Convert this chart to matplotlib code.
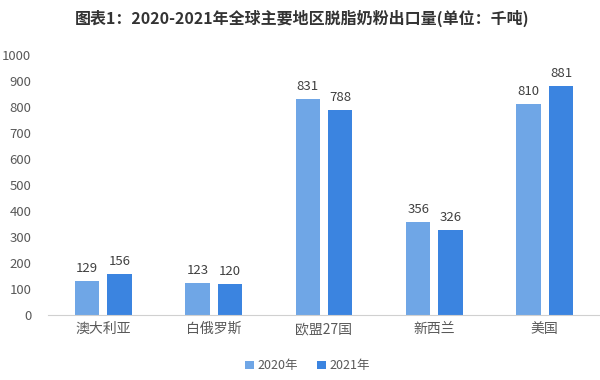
import numpy as np
import matplotlib.pyplot as plt

plt.rcParams['font.family'] = ['Noto Sans CJK SC', 'DejaVu Sans']

regions = ["澳大利亚", "白俄罗斯", "欧盟27国", "新西兰", "美国"]
exports_2020 = [129, 123, 831, 356, 810]
exports_2021 = [156, 120, 788, 326, 881]
yticks = list(range(0, 1001, 100))

c2020 = "#6fa6e6"
c2021 = "#3b84e0"
grey = "#595959"

fig = plt.figure(figsize=(6, 3.8), dpi=100)
ax = fig.add_axes([0.08, 0.171, 0.92, 0.684])

x = np.arange(len(regions))
w = 0.22
off = 0.147
b1 = ax.bar(x - off, exports_2020, width=w, color=c2020, label="2020年")
b2 = ax.bar(x + off, exports_2021, width=w, color=c2021, label="2021年")

for bars, vals in ((b1, exports_2020), (b2, exports_2021)):
    for rect, v in zip(bars, vals):
        ax.text(rect.get_x() + rect.get_width() / 2, v + 24, str(v),
                ha="center", va="bottom", fontsize=9.5, color="#404040")

ax.set_xlim(-0.5, len(regions) - 0.5)
ax.set_ylim(0, 1000)
ax.set_yticks(yticks)
ax.set_xticks(x)
ax.set_xticklabels(regions, fontsize=10, color=grey)
ax.tick_params(axis="y", labelsize=9.5, colors=grey, length=0, pad=12)
ax.tick_params(axis="x", length=0, pad=5)
for s in ("top", "right", "left"):
    ax.spines[s].set_visible(False)
ax.spines["bottom"].set_color("#d0d0d0")

fig.text(0.503, 0.952, "图表1：2020-2021年全球主要地区脱脂奶粉出口量(单位：千吨)",
         ha="center", va="center", fontsize=11.5, fontweight="bold", color="#333333")

fig.legend(loc="center", bbox_to_anchor=(0.513, 0.037), ncol=2, frameon=False,
           fontsize=9, handlelength=0.7, handleheight=0.7, handletextpad=0.3,
           columnspacing=1.5, labelcolor=grey)

fig.savefig("out.png", dpi=100)
